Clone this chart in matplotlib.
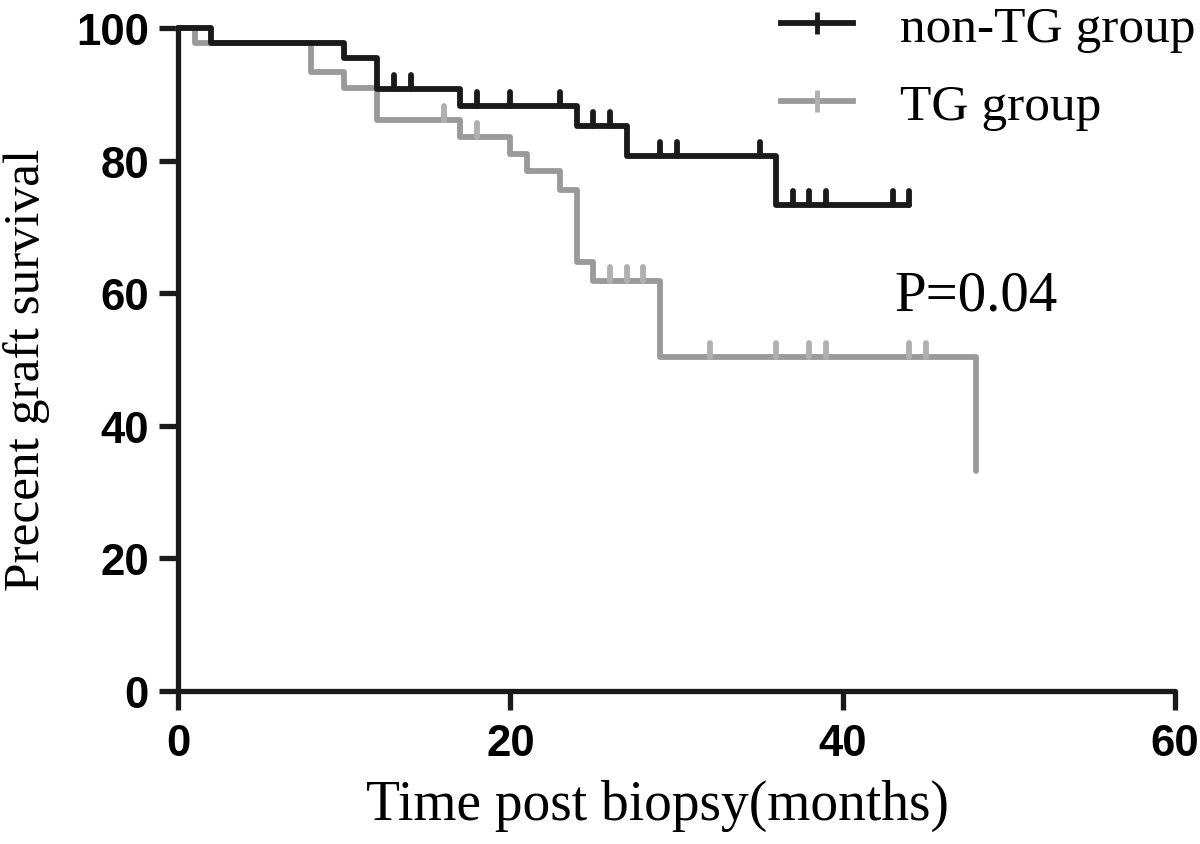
import matplotlib
matplotlib.use("Agg")
import matplotlib.pyplot as plt
from matplotlib.path import Path
from matplotlib.lines import Line2D
from matplotlib.markers import MarkerStyle

# Kaplan-Meier step data (months, percent survival)
nontg_times = [0, 2, 10, 12, 17, 24, 27, 36, 44]
nontg_surv = [100, 97.7, 95.4, 90.8, 88.3, 85.2, 80.7, 73.3, 73.3]
nontg_censor = [13, 14, 18, 20, 23, 25, 26, 29, 30, 35, 37, 38, 39, 43, 44]

tg_times = [0, 1, 8, 10, 12, 17, 20, 21, 23, 24, 25, 29, 48]
tg_surv = [100, 97.7, 93.3, 90.9, 86.1, 83.6, 81.0, 78.4, 75.6, 64.7, 61.8, 50.4, 33.2]
tg_censor = [16, 18, 26, 27, 28, 32, 36, 38, 39, 44, 45]

labels = ["non-TG group", "TG group"]
p_text = "P=0.04"
xticks = [0, 20, 40, 60]
yticks = [0, 20, 40, 60, 80, 100]

BLACK = "#1a1a1a"
GRAY = "#9a9a9a"
GRAY_T = "#b0b0b0"

def surv_at(times, surv, t):
    val = surv[0]
    for ti, si in zip(times, surv):
        if ti <= t:
            val = si
    return val

fig = plt.figure(figsize=(12, 8.45), dpi=100)
ax = fig.add_axes([178/1200, 1-692/845, (1175-178)/1200, (692-29)/845])

tick_marker = MarkerStyle(Path([(0, 0), (0, 1)], [Path.MOVETO, Path.LINETO]),
                          capstyle="round")
LW = 4.2

# TG group (drawn first, below)
ax.step(tg_times, tg_surv, where="post", color=GRAY, lw=LW, clip_on=False,
        solid_capstyle="round", solid_joinstyle="round", zorder=2)
ax.plot(tg_censor, [surv_at(tg_times, tg_surv, t) for t in tg_censor],
        linestyle="none", marker=tick_marker, markersize=20, markeredgewidth=LW,
        color=GRAY_T, clip_on=False, zorder=2)

# non-TG group
ax.step(nontg_times, nontg_surv, where="post", color=BLACK, lw=LW, clip_on=False,
        solid_capstyle="round", solid_joinstyle="round", zorder=3)
ax.plot(nontg_censor, [surv_at(nontg_times, nontg_surv, t) for t in nontg_censor],
        linestyle="none", marker=tick_marker, markersize=20, markeredgewidth=LW,
        color=BLACK, clip_on=False, zorder=3)

ax.set_xlim(0, 60)
ax.set_ylim(0, 100)
ax.set_xticks(xticks)
ax.set_yticks(yticks)
for s in ["top", "right"]:
    ax.spines[s].set_visible(False)
for s in ["left", "bottom"]:
    ax.spines[s].set_linewidth(3.8)
    ax.spines[s].set_color(BLACK)
    ax.spines[s].set_capstyle("round")
ax.tick_params(axis="both", direction="out", length=14, width=3.8, color=BLACK,
               labelsize=31.5)
ax.tick_params(axis="x", pad=9)
ax.tick_params(axis="y", pad=7)
for lab in ax.get_xticklabels() + ax.get_yticklabels():
    lab.set_fontfamily("Liberation Sans")
    lab.set_fontweight("bold")

serif = "Liberation Serif"
ax.set_xlabel("Time post biopsy(months)", fontfamily=serif, fontsize=40)
ax.set_ylabel("Precent graft survival", fontfamily=serif, fontsize=37)
ax.xaxis.set_label_coords(0.481, -0.132)
ax.yaxis.set_label_coords(-0.128, 0.486)

ax.text(43.1, 59.6, p_text, fontfamily=serif, fontsize=41, ha="left", va="center")

handles = [
    Line2D([0], [0], color=BLACK, lw=LW, marker="|", markersize=16, markeredgewidth=3.5),
    Line2D([0], [0], color=GRAY, lw=LW, marker="|", markersize=16, markeredgewidth=3.5,
           markeredgecolor=GRAY_T),
]
leg = fig.legend(handles, labels, loc="upper right",
                 bbox_to_anchor=(1195/1200, 1 - 6/845), borderaxespad=0, borderpad=0,
                 frameon=False, prop={"family": serif, "size": 37},
                 handlelength=1.4, handletextpad=0.9, labelspacing=0.6)

fig.savefig("out.png", dpi=100)
